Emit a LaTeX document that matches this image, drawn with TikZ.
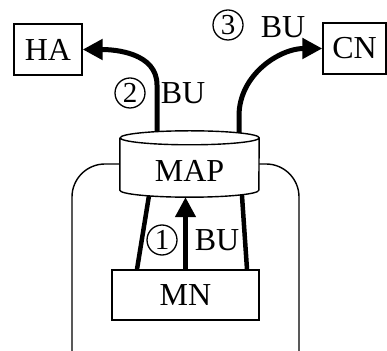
\documentclass[tikz,border=0pt]{standalone}
\usepackage{fontspec}
\setmainfont{Liberation Serif}
\usetikzlibrary{arrows.meta,calc}

\begin{document}
\begin{tikzpicture}[x=1pt,y=1pt,
  every node/.style={font=\fontsize{32}{36}\selectfont},
  box/.style={draw, line width=1.4pt, inner sep=0pt},
  leg/.style={line width=4.5pt},
  bigarrow/.style={line width=5pt, -{Triangle[length=20pt,width=20pt]}},
  num/.style={circle, draw, line width=1.3pt, inner sep=0pt, minimum size=30pt,
    font=\fontsize{29}{29}\selectfont},
  tag/.style={inner sep=0pt}]
  \useasboundingbox (0,0) rectangle (387,350);

  \node[box, minimum width=68pt, minimum height=51pt] (ha) at (48,300.5) {HA};
  \node[box, minimum width=63pt, minimum height=51pt] (cn) at (354.5,301.5) {CN};
  \node[box, minimum width=147pt, minimum height=50pt] (mn) at (185.5,55) {MN};
  \node[inner sep=0pt, minimum width=139pt, minimum height=52pt] (map) at (189.5,179) {};

  % enclosing frame, open at the bottom
  \draw[line width=1.4pt, rounded corners=33pt] (72,-10) -- (72,186) -- (299,186) -- (299,-10);

  % links from MN up into MAP
  \draw[leg] ([xshift=-48.5pt]mn.north) -- ([xshift=-36.5pt]map.center);
  \draw[leg] ([xshift=61.5pt]mn.north) -- ([xshift=50.8pt]map.center);

  % BU towards HA and CN
  \draw[bigarrow] ([xshift=-32.5pt]map.center) -- ++(0,86) to[out=90,in=0] (ha.east);
  \draw[bigarrow] ([xshift=49.5pt]map.center) -- ++(0,55) to[out=90,in=180] (cn.west);

  % MAP drum
  \draw[line width=1.4pt, fill=white]
    ($(map.north west)+(0,7)$) -- ($(map.south west)+(0,7)$)
    arc[start angle=180, end angle=360, x radius=69.5pt, y radius=7pt]
    -- ($(map.north east)+(0,7)$)
    arc[start angle=0, end angle=180, x radius=69.5pt, y radius=7pt]
    arc[start angle=180, end angle=360, x radius=69.5pt, y radius=7pt];
  \node at (map) {MAP};

  \draw[bigarrow, line width=4.5pt] (mn.north) -- (mn.north |- map.south);

  \node[num] (n1) at (162,110) {1};
  \node[tag] (b1) at (217,110) {BU};
  \node[num] (n2) at (130,257) {2};
  \node[tag] (b2) at (183,257) {BU};
  \node[num] (n3) at (228,325) {3};
  \node[tag] (b3) at (283,323) {BU};
\end{tikzpicture}
\end{document}
